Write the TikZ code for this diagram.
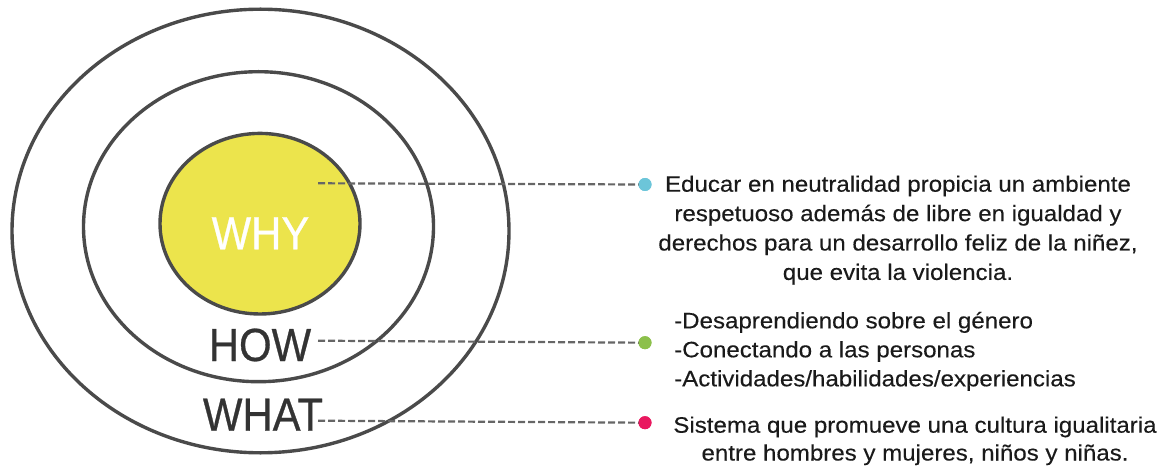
\documentclass[tikz,border=0pt]{standalone}
\usepackage{fontspec}
\setmainfont{Liberation Sans}
\newfontfamily\bigfont[FakeStretch=0.9,FakeBold=0.6]{Liberation Sans}
\newfontfamily\bodyfont[FakeStretch=1.08,FakeBold=0.3]{Liberation Sans}
\usepackage{array}
\definecolor{ringgray}{HTML}{4A4A4A}
\definecolor{dashgray}{HTML}{666666}
\definecolor{whyyellow}{HTML}{ECE44C}
\definecolor{labelgray}{HTML}{333333}
\definecolor{dotcyan}{HTML}{6CC5D9}
\definecolor{dotgreen}{HTML}{8CC04B}
\definecolor{dotpink}{HTML}{E9185F}
\definecolor{bodyblack}{HTML}{1A1A1A}
\tikzset{
  ring/.style={draw=ringgray, line width=3.4pt},
  biglabel/.style={anchor=base, inner sep=0pt, font=\bigfont\fontsize{46.5}{50}\selectfont},
  leader/.style={draw=dashgray, line width=2.2pt, dash pattern=on 7pt off 3pt},
  bullet/.style={circle, inner sep=0pt, minimum size=13pt},
  bodytext/.style={anchor=base, inner sep=0pt, text=bodyblack}
}
\begin{document}
\begin{tikzpicture}[x=1pt, y=-1pt]
\useasboundingbox (0,0) rectangle (1158,470);
% rings
\draw[ring] (260.5,231) ellipse [x radius=248.5, y radius=221.8];
\draw[ring] (258.5,226.7) ellipse [x radius=175, y radius=155];
\draw[ring, fill=whyyellow] (260,223.7) ellipse [x radius=100, y radius=90.3];
% labels
\node[biglabel, text=white] (why) at (260.5,249.3) {WHY};
\node[biglabel, text=labelgray] (how) at (260,361) {HOW};
\node[biglabel, text=labelgray] (what) at (263,430.7) {WHAT};
% leader start points
\coordinate (s1) at (318,183.3);
\coordinate (s2) at (318,340.7);
\coordinate (s3) at (318,420.7);
% bullets
\node[bullet, fill=dotcyan] (d1) at (645,184.5) {};
\node[bullet, fill=dotgreen] (d2) at (645,342.7) {};
\node[bullet, fill=dotpink] (d3) at (645,422.7) {};
% leaders
\draw[leader] (s1) -- (d1.center);
\draw[leader] (s2) -- (d2.center);
\draw[leader] (s3) -- (d3.center);
\fill[dotcyan] (d1) circle (6.5pt);
\fill[dotgreen] (d2) circle (6.5pt);
\fill[dotpink] (d3) circle (6.5pt);
% texts
\node[bodytext] (t1) at (898,191.7) {\bodyfont\fontsize{22.3}{29.4}\selectfont
  \begin{tabular}[t]{@{}c@{}}
  Educar en neutralidad propicia un ambiente\\
  respetuoso además de libre en igualdad y\\
  derechos para un desarrollo feliz de la niñez,\\
  que evita la violencia.
  \end{tabular}};
\node[bodytext, anchor=base west] (t2) at (674,328.3) {\bodyfont\fontsize{22.3}{29}\selectfont
  \begin{tabular}[t]{@{}l@{}}
  -Desaprendiendo sobre el género\\
  -Conectando a las personas\\
  -Actividades/habilidades/experiencias
  \end{tabular}};
\node[bodytext] (t3) at (915,432.7) {\bodyfont\fontsize{22.3}{27.8}\selectfont
  \begin{tabular}[t]{@{}c@{}}
  Sistema que promueve una cultura igualitaria\\
  entre hombres y mujeres, niños y niñas.
  \end{tabular}};
\end{tikzpicture}
\end{document}
